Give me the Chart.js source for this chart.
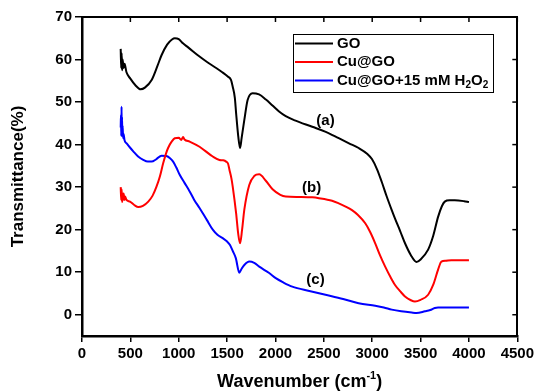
<!DOCTYPE html>
<html>
<head>
<meta charset="utf-8">
<script src="https://cdn.jsdelivr.net/npm/chart.js@4/dist/chart.umd.min.js"></script>
<style>
html,body{margin:0;padding:0;background:#fff;}
#c{display:block;}
</style>
</head>
<body>
<canvas id="c" width="537" height="392"></canvas>
<script>
// ---- data ----
const xTicks = [0,500,1000,1500,2000,2500,3000,3500,4000,4500];
const yTicks = [0,10,20,30,40,50,60,70];

const goWn = [400,405,410,415,420,430,440,460,500,550,606,650,720,780,822,880,930,960,1000,1044,1100,1215,1300,1387,1450,1507,1540,1558,1580,1593,1615,1634,1650,1678,1712,1763,1830,1901,1969,2037,2106,2200,2380,2520,2654,2760,2860,2950,2997,3050,3099,3150,3202,3236,3290,3339,3400,3458,3500,3578,3630,3681,3720,3750,3800,3853,3950,4000];
const goT  = [62.5,58,61.5,57.5,60,58,59,57,55.5,54,53,53.4,55.2,58.5,61,63.5,64.7,65,64.8,63.8,62.8,60.7,59.3,58,57,56,55.2,53.6,51,47.4,42,39.2,41.5,45.8,50.5,52.1,51.8,50.6,49.2,47.8,46.7,45.7,44.2,43,41.5,40.3,39.2,37.8,36.6,34.2,31.2,27.8,24.6,22.6,19.6,16.8,14,12.4,13,15.3,18.5,23,25.5,26.6,26.9,26.9,26.7,26.5];

const cuWn = [400,405,410,415,420,425,430,440,445,460,496,540,582,630,685,730,770,805,839,870,890,930,959,1000,1027,1045,1060,1113,1215,1352,1421,1460,1490,1510,1524,1545,1558,1593,1615,1634,1655,1678,1729,1780,1832,1900,1970,2050,2106,2250,2380,2450,2585,2654,2720,2791,2850,2928,2980,3031,3080,3134,3190,3236,3290,3339,3400,3442,3500,3578,3630,3681,3715,3760,3818,3900,4000];
const cuT  = [30,27,29.5,26.5,28.5,27,28.5,27,27.8,27,26.6,25.8,25.3,25.6,26.6,28,30.1,32.5,35.6,38,39.2,40.8,41.5,41.6,41.1,41.8,41.2,40.7,39.5,37.2,36.4,36.3,36,35.5,34.1,32,30.1,23.9,19,16.8,20,24.7,30.5,32.6,33,31.5,29.5,28.2,27.8,27.7,27.6,27.4,26.8,26.2,25.5,24.6,23.5,21.5,19.4,16.8,14,11.3,8.8,7,5.5,4.3,3.4,3.1,3.5,4.7,7,10.6,12.5,12.7,12.8,12.8,12.8];

const h2Wn = [400,403,406,409,411,414,417,420,425,430,440,462,500,530,580,633,680,719,770,822,873,910,942,975,1010,1060,1113,1160,1215,1290,1352,1400,1455,1500,1530,1558,1590,1626,1650,1678,1729,1780,1832,1935,2003,2080,2174,2350,2517,2700,2860,3031,3120,3202,3300,3408,3458,3545,3600,3647,3681,3750,3850,4000];
const h2T  = [44,47,42,48.9,43,46.5,42,44.5,41.5,42.5,41,40.3,39.2,38.4,37.2,36.4,36,36,36.6,37.4,37.3,36.8,36,34.6,32.9,31,29,27,25.1,22.3,20,18.8,18,17.2,16.4,15,13.3,9.9,10.8,11.7,12.5,12.2,11.3,9.8,8.6,7.6,6.6,5.6,4.7,3.7,2.7,2.1,1.7,1.2,0.8,0.5,0.4,0.8,1.1,1.6,1.7,1.7,1.7,1.7];

const seriesNames = ['GO','Cu@GO','Cu@GO+15 mM H2O2'];
const seriesColors = ['#000000','#ff0000','#0000ff'];
const curveLabels = ['(a)','(b)','(c)'];
const curveLabelPos = [[2517,45.6],[2374,29.9],[2414,8.2]];

// ---- chart ----
const FONT = '"Liberation Sans", Arial, sans-serif';
const pts = (xs, ys) => xs.map((x,i)=>({x:x,y:ys[i]}));

const overlay = {
  id:'overlay',
  afterDraw(chart){
    const ctx = chart.ctx, a = chart.chartArea;
    const xs = chart.scales.x, ys = chart.scales.y;
    ctx.save();
    // inward ticks on top and right
    ctx.strokeStyle = '#000'; ctx.lineWidth = 1.5;
    xTicks.forEach(v=>{
      const px = xs.getPixelForValue(v);
      ctx.beginPath(); ctx.moveTo(px, a.top); ctx.lineTo(px, a.top+5); ctx.stroke();
    });
    yTicks.forEach(v=>{
      const py = ys.getPixelForValue(v);
      ctx.beginPath(); ctx.moveTo(a.right, py); ctx.lineTo(a.right-5, py); ctx.stroke();
    });
    // curve labels
    ctx.fillStyle = '#000';
    ctx.font = 'bold 15px ' + FONT;
    ctx.textAlign = 'center'; ctx.textBaseline = 'middle';
    curveLabels.forEach((t,i)=>{
      ctx.fillText(t, xs.getPixelForValue(curveLabelPos[i][0]), ys.getPixelForValue(curveLabelPos[i][1]));
    });
    // legend
    const lx = 293, ly = 34, lw = 200, lh = 58;
    ctx.lineWidth = 1; ctx.strokeStyle = '#000';
    ctx.strokeRect(lx+0.5, ly+0.5, lw, lh);
    const rows = [43.5, 62, 80.5];
    ctx.textAlign = 'left'; ctx.textBaseline = 'middle';
    seriesNames.forEach((n,i)=>{
      const y = rows[i];
      ctx.strokeStyle = seriesColors[i]; ctx.lineWidth = 2;
      ctx.beginPath(); ctx.moveTo(295, y); ctx.lineTo(333, y); ctx.stroke();
      ctx.fillStyle = '#000';
      let x = 337;
      const parts = n === 'Cu@GO+15 mM H2O2'
        ? [['Cu@GO+15 mM H',0],['2',1],['O',0],['2',1]]
        : [[n,0]];
      parts.forEach(p=>{
        if(p[1]){ ctx.font = 'bold 10px ' + FONT; ctx.fillText(p[0], x, y+5); }
        else { ctx.font = 'bold 15px ' + FONT; ctx.fillText(p[0], x, y); }
        x += ctx.measureText(p[0]).width;
      });
    });
    // x title with superscript
    const big = 'bold 18px ' + FONT, small = 'bold 11px ' + FONT;
    const p1 = 'Wavenumber (cm', sup = '-1', p2 = ')';
    ctx.font = big; const w1 = ctx.measureText(p1).width, w3 = ctx.measureText(p2).width;
    ctx.font = small; const w2 = ctx.measureText(sup).width;
    let tx = (a.left + a.right)/2 - (w1+w2+w3)/2;
    const ty = 382;
    ctx.textAlign='left'; ctx.textBaseline='middle';
    ctx.font = big; ctx.fillText(p1, tx, ty); tx += w1;
    ctx.font = small; ctx.fillText(sup, tx, ty-6); tx += w2;
    ctx.font = big; ctx.fillText(p2, tx, ty);
    // y title
    ctx.translate(18, (a.top+a.bottom)/2);
    ctx.rotate(-Math.PI/2);
    ctx.textAlign='center'; ctx.font = 'bold 17px ' + FONT;
    ctx.fillText('Transmittance(%)', 0, 0);
    ctx.restore();
  }
};

const mk = (i, xs, ys) => ({
  label: seriesNames[i], data: pts(xs, ys),
  borderColor: seriesColors[i], borderWidth: 2, pointRadius: 0,
  cubicInterpolationMode: 'monotone', fill: false
});

new Chart(document.getElementById('c'), {
  type: 'line',
  data: { datasets: [mk(0, goWn, goT), mk(1, cuWn, cuT), mk(2, h2Wn, h2T)] },
  options: {
    responsive: false, animation: false, devicePixelRatio: 1,
    layout: { padding: 0 },
    plugins: { legend: { display: false }, tooltip: { enabled: false } },
    scales: {
      x: {
        type: 'linear', position: 'bottom', min: 0, max: 4500,
        afterBuildTicks: s => { s.ticks = xTicks.map(v=>({value:v})); },
        afterFit: s => { s.height = 56; },
        ticks: { color: '#000', font: { family: FONT, size: 15, weight: 'bold' }, padding: 3, maxRotation: 0, autoSkip: false, callback: v => String(v) },
        grid: { display: true, drawOnChartArea: false, drawTicks: true, tickLength: 6, color: '#000', lineWidth: 1.5 },
        border: { display: true, color: '#000', width: 2.5 }
      },
      x2: {
        type: 'linear', position: 'top', min: 0, max: 4500,
        afterFit: s => { s.height = 17; },
        ticks: { display: false },
        grid: { display: false },
        border: { display: true, color: '#000', width: 2 }
      },
      y: {
        type: 'linear', position: 'left', min: -5, max: 70,
        afterBuildTicks: s => { s.ticks = yTicks.map(v=>({value:v})); },
        afterFit: s => { s.width = 82; },
        ticks: { color: '#000', font: { family: FONT, size: 15, weight: 'bold' }, padding: 3, autoSkip: false, callback: v => String(v) },
        grid: { display: true, drawOnChartArea: false, drawTicks: true, tickLength: 7, color: '#000', lineWidth: 1.5 },
        border: { display: true, color: '#000', width: 2.5 }
      },
      y2: {
        type: 'linear', position: 'right', min: -5, max: 70,
        afterFit: s => { s.width = 18; },
        ticks: { display: false },
        grid: { display: false },
        border: { display: true, color: '#000', width: 2 }
      }
    }
  },
  plugins: [overlay]
});
</script>
</body>
</html>
